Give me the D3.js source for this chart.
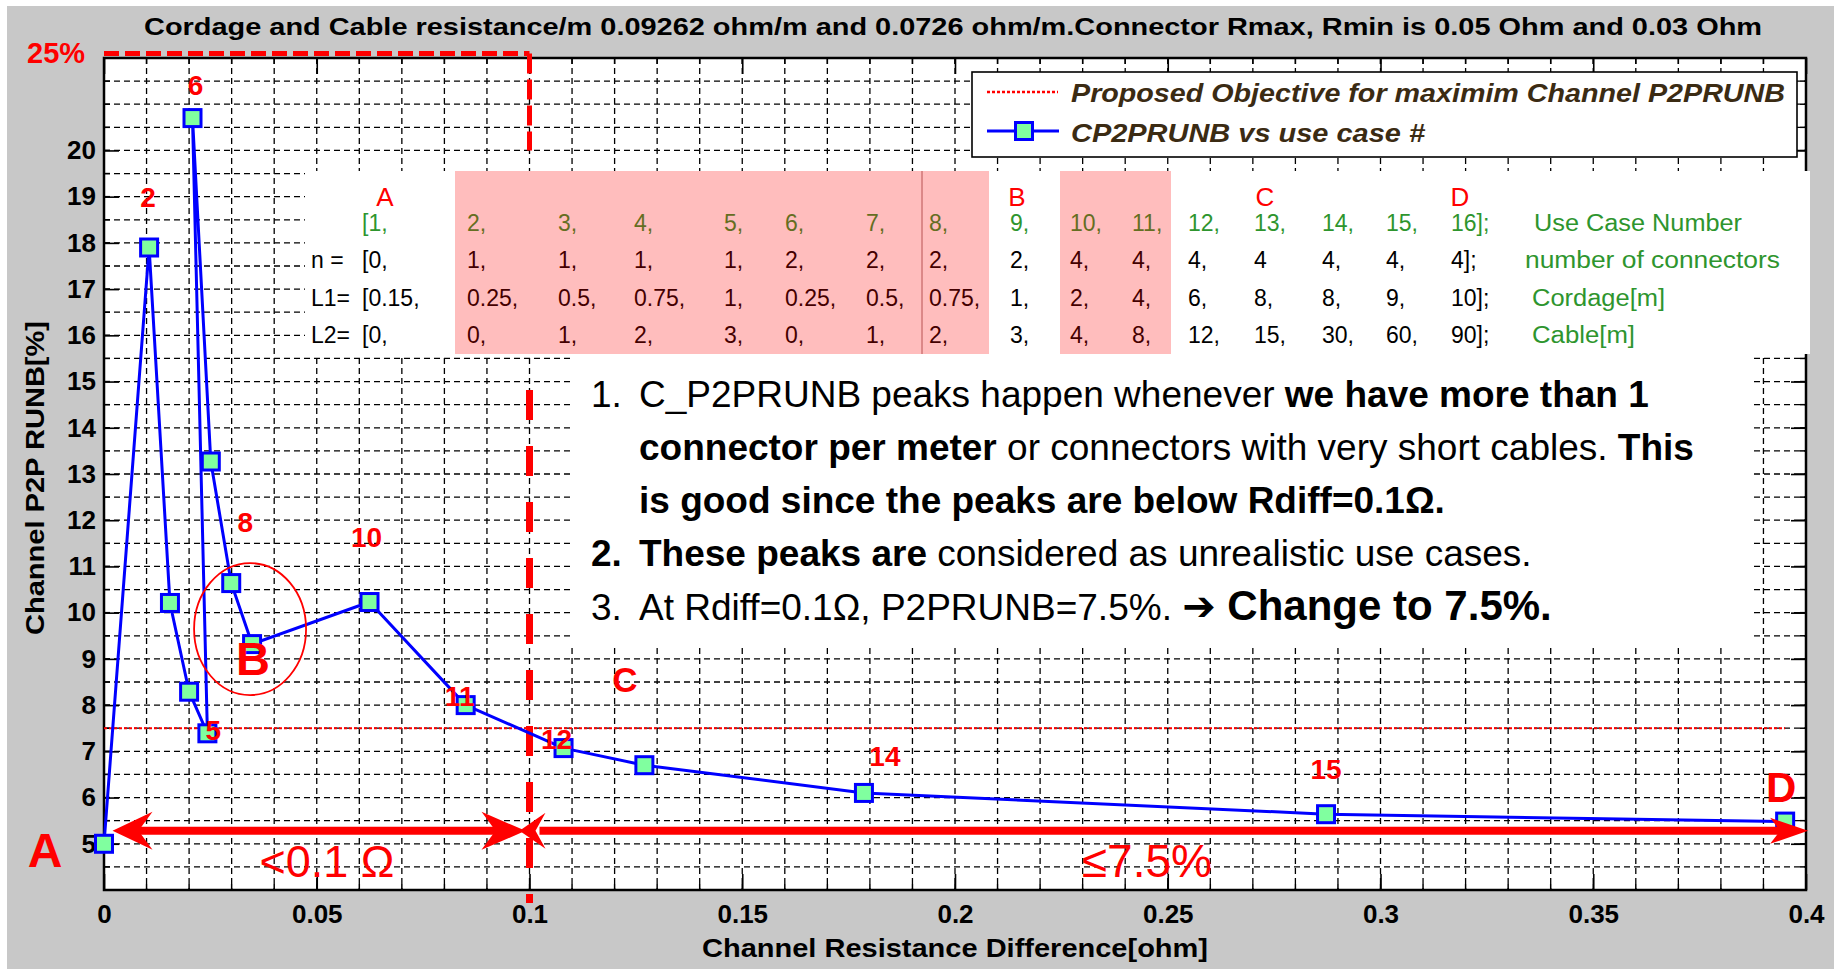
<!DOCTYPE html>
<html>
<head>
<meta charset="utf-8">
<script src="https://cdn.jsdelivr.net/npm/d3@7"></script>
<style>
html, body { margin: 0; padding: 0; background: #fff; }
svg { display: block; }
text { font-family: "Liberation Sans", Arial, sans-serif; white-space: pre; }
</style>
</head>
<body>
<svg id="chart"></svg>
<script>
// data
const useCase = [1, 2, 3, 4, 5, 6, 7, 8, 9, 10, 11, 12, 13, 14, 15, 16];
const rDiff = [0, 0.0106, 0.0155, 0.0200, 0.0243, 0.0208, 0.0251, 0.0299, 0.0348, 0.0624, 0.0850, 0.1080, 0.1270, 0.1786, 0.2872, 0.3951];
const runb = [5.0, 17.9, 10.21, 8.29, 7.39, 20.70, 13.27, 10.64, 9.32, 10.23, 8.0, 7.07, 6.70, 6.10, 5.64, 5.48];
const objective = 7.5;
const rLimit = 0.1;

// table in the chart
const nConn = [0, 1, 1, 1, 1, 2, 2, 2, 2, 4, 4, 4, 4, 4, 4, 4];
const cordage = [0.15, 0.25, 0.5, 0.75, 1, 0.25, 0.5, 0.75, 1, 2, 4, 6, 8, 8, 9, 10];
const cable = [0, 0, 1, 2, 3, 0, 1, 2, 3, 4, 8, 12, 15, 30, 60, 90];
const rowNames = ["", "n =", "L1=", "L2="];
const rowDesc = ["Use Case Number", "number of connectors", "Cordage[m]", "Cable[m]"];
const zoneLetters = ["A", "B", "C", "D"];

// axes
const xTicks = [0, 0.05, 0.1, 0.15, 0.2, 0.25, 0.3, 0.35, 0.4];
const yTicks = [5, 6, 7, 8, 9, 10, 11, 12, 13, 14, 15, 16, 17, 18, 19, 20];

const titleText = "Cordage and Cable resistance/m 0.09262 ohm/m and 0.0726 ohm/m.Connector Rmax, Rmin is 0.05 Ohm and 0.03 Ohm";
const legendTexts = ["Proposed Objective for maximim Channel P2PRUNB", "CP2PRUNB vs use case #"];

const W = 1834, H = 969;
const RED = "#ff0000", BLUE = "#0000ff", MARK = "#80ff9f";

const svg = d3.select("#chart").attr("width", W).attr("height", H);

const x = d3.scaleLinear().domain([0, 0.4]).range([104, 1806]);
const y = d3.scaleLinear().domain([4, 22]).range([890, 58]);

svg.append("rect").attr("x", 7).attr("y", 6).attr("width", W - 7).attr("height", H - 6).attr("fill", "#c8c8c8");

// plot area
svg.append("rect")
    .attr("x", x(0)).attr("y", y(22))
    .attr("width", x(0.4) - x(0)).attr("height", y(4) - y(22))
    .attr("fill", "#fff");

// grid
const gridG = svg.append("g").attr("stroke", "#000").attr("stroke-width", 1.3).attr("stroke-dasharray", "6,4");
gridG.selectAll(".vg").data(d3.range(1, 40).map(i => i / 100)).join("line")
    .attr("x1", d => x(d)).attr("x2", d => x(d))
    .attr("y1", y(22)).attr("y2", y(4));
gridG.selectAll(".hg").data(d3.range(9, 44).map(i => i / 2)).join("line")
    .attr("x1", x(0)).attr("x2", x(0.4))
    .attr("y1", d => y(d)).attr("y2", d => y(d));

// minor ticks
const tickG = svg.append("g").attr("stroke", "#000").attr("stroke-width", 1.5);
d3.range(1, 40).map(i => i / 100).forEach(v => {
    tickG.append("line").attr("x1", x(v)).attr("x2", x(v)).attr("y1", y(4)).attr("y2", y(4) - 6);
    tickG.append("line").attr("x1", x(v)).attr("x2", x(v)).attr("y1", y(22)).attr("y2", y(22) + 6);
});
d3.range(9, 44).map(i => i / 2).forEach(v => {
    tickG.append("line").attr("x1", x(0)).attr("x2", x(0) + 6).attr("y1", y(v)).attr("y2", y(v));
    tickG.append("line").attr("x1", x(0.4)).attr("x2", x(0.4) - 6).attr("y1", y(v)).attr("y2", y(v));
});

// axes
const xAxis = d3.axisBottom(x).tickValues(xTicks).tickFormat(d3.format("")).tickSizeInner(-16).tickSizeOuter(0).tickPadding(15);
const xAxisG = svg.append("g").attr("transform", `translate(0,${y(4)})`).call(xAxis);
const xAxisTop = d3.axisTop(x).tickValues(xTicks).tickFormat("").tickSizeInner(-16).tickSizeOuter(0);
const xAxisTopG = svg.append("g").attr("transform", `translate(0,${y(22)})`).call(xAxisTop);
const yAxis = d3.axisLeft(y).tickValues(yTicks).tickSizeInner(-15).tickSizeOuter(0).tickPadding(8);
const yAxisG = svg.append("g").attr("transform", `translate(${x(0)},0)`).call(yAxis);
const yAxisR = d3.axisRight(y).tickValues(yTicks).tickFormat("").tickSizeInner(-15).tickSizeOuter(0);
const yAxisRG = svg.append("g").attr("transform", `translate(${x(0.4)},0)`).call(yAxisR);
[xAxisG, xAxisTopG, yAxisG, yAxisRG].forEach(g => {
    g.select(".domain").remove();
    g.selectAll(".tick line").attr("stroke", "#000").attr("stroke-width", 1.6);
    g.selectAll(".tick text").attr("fill", "#000").attr("font-size", 26).attr("font-weight", "bold")
        .attr("font-family", "Liberation Sans, Arial, sans-serif");
});

svg.append("rect")
    .attr("x", x(0)).attr("y", y(22))
    .attr("width", x(0.4) - x(0)).attr("height", y(4) - y(22))
    .attr("fill", "none").attr("stroke", "#000").attr("stroke-width", 2.5);

// title and axis labels
svg.append("text").attr("x", 953).attr("y", 35).attr("text-anchor", "middle")
    .attr("font-size", 24).attr("font-weight", "bold")
    .attr("textLength", 1618).attr("lengthAdjust", "spacingAndGlyphs")
    .text(titleText);
svg.append("text").attr("x", (x(0) + x(0.4)) / 2).attr("y", 957).attr("text-anchor", "middle")
    .attr("font-size", 25).attr("font-weight", "bold")
    .attr("textLength", 506).attr("lengthAdjust", "spacingAndGlyphs")
    .text("Channel Resistance Difference[ohm]");
svg.append("text").attr("transform", "translate(44,478) rotate(-90)").attr("text-anchor", "middle")
    .attr("font-size", 25).attr("font-weight", "bold")
    .attr("textLength", 314).attr("lengthAdjust", "spacingAndGlyphs")
    .text("Channel P2P RUNB[%]");

// red dashed limit: 25% ceiling and Rdiff = 0.1
svg.append("line").attr("x1", x(0)).attr("x2", x(rLimit)).attr("y1", y(22.1)).attr("y2", y(22.1))
    .attr("stroke", RED).attr("stroke-width", 5).attr("stroke-dasharray", "15,6");
svg.append("line").attr("x1", x(rLimit)).attr("x2", x(rLimit)).attr("y1", y(22.1)).attr("y2", y(20))
    .attr("stroke", RED).attr("stroke-width", 5).attr("stroke-dasharray", "20,6");
svg.append("line").attr("x1", x(rLimit)).attr("x2", x(rLimit)).attr("y1", 390).attr("y2", 903)
    .attr("stroke", RED).attr("stroke-width", 7).attr("stroke-dasharray", "30,26");
svg.append("text").attr("x", 27).attr("y", 63).attr("fill", RED)
    .attr("font-size", 29).attr("font-weight", "bold").text("25%");

// objective line
svg.append("line")
    .attr("x1", x(0)).attr("x2", x(d3.max(rDiff)))
    .attr("y1", y(objective)).attr("y2", y(objective))
    .attr("stroke", RED).attr("stroke-width", 2).attr("stroke-dasharray", "3,2");

// data
const pts = useCase.map((c, i) => ({ c: c, r: rDiff[i], v: runb[i] }));
svg.append("path").datum(pts)
    .attr("d", d3.line().x(d => x(d.r)).y(d => y(d.v)))
    .attr("fill", "none").attr("stroke", BLUE).attr("stroke-width", 3).attr("stroke-linejoin", "round");
const MS = 17;
svg.append("g").selectAll("rect").data(pts).join("rect")
    .attr("x", d => x(d.r) - MS / 2).attr("y", d => y(d.v) - MS / 2)
    .attr("width", MS).attr("height", MS)
    .attr("fill", MARK).attr("stroke", BLUE).attr("stroke-width", 3);

// use case table
const tbl = svg.append("g");
tbl.append("rect").attr("x", 305).attr("y", 171).attr("width", 1505).attr("height", 183).attr("fill", "#fff");
const colX = [362, 467, 558, 634, 724, 785, 866, 929, 1010, 1070, 1132, 1188, 1254, 1322, 1386, 1451];
const rowY = [231, 268, 306, 343];
const fmtRow = (arr, i) => (i === 0 ? "[" : "") + arr[i] + (i === arr.length - 1 ? "];" : ",");
const rows = [
    useCase.map((d, i) => fmtRow(useCase, i)),
    nConn.map((d, i) => i === 12 ? String(d) : fmtRow(nConn, i)),
    cordage.map((d, i) => fmtRow(cordage, i)),
    cable.map((d, i) => fmtRow(cable, i))
];
const GREEN = "#2e952e";
rows.forEach((row, r) => {
    tbl.selectAll(".r" + r).data(row).join("text")
        .attr("x", (d, i) => colX[i]).attr("y", rowY[r])
        .attr("font-family", "Noto Sans, sans-serif").attr("font-size", 23)
        .attr("fill", r === 0 ? GREEN : "#000")
        .text(d => d);
    tbl.append("text").attr("x", 311).attr("y", rowY[r])
        .attr("font-family", "Noto Sans, sans-serif").attr("font-size", 23)
        .text(rowNames[r]);
});
const descX = [1534, 1525, 1532, 1532];
const descW = [208, 255, 133, 103];
rowDesc.forEach((t, r) => {
    tbl.append("text").attr("x", descX[r]).attr("y", rowY[r])
        .attr("font-family", "Noto Sans, sans-serif").attr("font-size", 23).attr("fill", GREEN)
        .attr("textLength", descW[r]).attr("lengthAdjust", "spacingAndGlyphs")
        .text(t);
});
const letterX = [385, 1017, 1265, 1460];
tbl.selectAll(".zl").data(zoneLetters).join("text")
    .attr("x", (d, i) => letterX[i]).attr("y", 206).attr("text-anchor", "middle")
    .attr("font-family", "Noto Sans, sans-serif").attr("font-size", 26).attr("fill", RED)
    .text(d => d);
tbl.append("line").attr("x1", 922).attr("x2", 922).attr("y1", 171).attr("y2", 354)
    .attr("stroke", "#a07070").attr("stroke-width", 1);
tbl.append("rect").attr("x", 455).attr("y", 171).attr("width", 534).attr("height", 183)
    .attr("fill", RED).attr("fill-opacity", 0.26);
tbl.append("rect").attr("x", 1060).attr("y", 171).attr("width", 111).attr("height", 183)
    .attr("fill", RED).attr("fill-opacity", 0.26);

// notes
const notes = svg.append("g");
notes.append("rect").attr("x", 570).attr("y", 354).attr("width", 1182).attr("height", 291).attr("fill", "#fff");
const noteLines = [
    { num: "1.", numBold: false, y: 407, parts: [["C_P2PRUNB peaks happen whenever ", false], ["we have more than 1", true]] },
    { num: "", y: 460, parts: [["connector per meter", true], [" or connectors with very short cables. ", false], ["This", true]] },
    { num: "", y: 513, parts: [["is good since the peaks are below Rdiff=0.1Ω.", true]] },
    { num: "2.", numBold: true, y: 566, parts: [["These peaks are", true], [" considered as unrealistic use cases.", false]] },
    { num: "3.", numBold: false, y: 620, parts: [["At Rdiff=0.1Ω, P2PRUNB=7.5%. ", false], ["➔", true], [" Change to 7.5%.", true, 42]] }
];
noteLines.forEach(l => {
    if (l.num) {
        notes.append("text").attr("x", 591).attr("y", l.y).attr("font-size", 37)
            .attr("font-weight", l.numBold ? "bold" : "normal").text(l.num);
    }
    const t = notes.append("text").attr("x", 639).attr("y", l.y).attr("font-size", 37);
    l.parts.forEach(p => {
        const s = t.append("tspan").attr("font-weight", p[1] ? "bold" : "normal").text(p[0]);
        if (p[2]) s.attr("font-size", p[2]);
        if (p[0] === "➔") s.attr("font-family", "DejaVu Sans, sans-serif").attr("font-size", 40);
    });
});

// legend
const lg = svg.append("g");
lg.append("rect").attr("x", 972).attr("y", 72).attr("width", 825).attr("height", 85)
    .attr("fill", "#fff").attr("stroke", "#000").attr("stroke-width", 1.6);
lg.append("line").attr("x1", 987).attr("x2", 1058).attr("y1", 92).attr("y2", 92)
    .attr("stroke", RED).attr("stroke-width", 2.5).attr("stroke-dasharray", "3,2");
lg.append("line").attr("x1", 987).attr("x2", 1059).attr("y1", 131).attr("y2", 131)
    .attr("stroke", BLUE).attr("stroke-width", 3);
lg.append("rect").attr("x", 1024 - MS / 2).attr("y", 131 - MS / 2).attr("width", MS).attr("height", MS)
    .attr("fill", MARK).attr("stroke", BLUE).attr("stroke-width", 3);
const legW = [714, 354];
lg.selectAll(".lt").data(legendTexts).join("text")
    .attr("x", 1071).attr("y", (d, i) => 102 + i * 40)
    .attr("font-size", 25).attr("font-weight", "bold").attr("font-style", "italic").attr("fill", "#3b2b13")
    .attr("textLength", (d, i) => legW[i]).attr("lengthAdjust", "spacingAndGlyphs")
    .text(d => d);

// case number labels near points
const caseLabels = [
    { c: 2, dx: -1, dy: -41 }, { c: 6, dx: 3, dy: -23 }, { c: 5, dx: 6, dy: 7 },
    { c: 8, dx: 14, dy: -51 }, { c: 10, dx: -3, dy: -55 }, { c: 11, dx: -6, dy: 1 },
    { c: 12, dx: -7, dy: 1 }, { c: 14, dx: 21, dy: -27 }, { c: 15, dx: 0, dy: -35 }
];
svg.append("g").selectAll("text").data(caseLabels).join("text")
    .attr("x", d => x(rDiff[d.c - 1]) + d.dx).attr("y", d => y(runb[d.c - 1]) + d.dy)
    .attr("text-anchor", "middle").attr("font-size", 28).attr("font-weight", "bold").attr("fill", RED)
    .text(d => d.c);

// zone letters in the plot
const zoneMarks = [
    { t: "A", c: 1, dx: -59, dy: 23, fs: 48 },
    { t: "B", c: 9, dx: 1, dy: 31, fs: 47 },
    { t: "D", c: 16, dx: -4, dy: -20, fs: 42 }
];
svg.append("g").selectAll("text").data(zoneMarks).join("text")
    .attr("x", d => x(rDiff[d.c - 1]) + d.dx).attr("y", d => y(runb[d.c - 1]) + d.dy)
    .attr("text-anchor", "middle").attr("font-size", d => d.fs).attr("font-weight", "bold").attr("fill", RED)
    .text(d => d.t);
svg.append("text").attr("x", x(0.1224)).attr("y", y(8.28)).attr("text-anchor", "middle")
    .attr("font-size", 35).attr("font-weight", "bold").attr("fill", RED).text("C");
svg.append("ellipse").attr("cx", x(rDiff[8]) - 2).attr("cy", y(runb[8]) - 15).attr("rx", 56).attr("ry", 66)
    .attr("fill", "none").attr("stroke", RED).attr("stroke-width", 1.8);

// range arrows
const ay = y(5.28);
const head = (tip, dir, len, half, notch) =>
    `M${tip},${ay}L${tip - dir * len},${ay - half}L${tip - dir * notch},${ay}L${tip - dir * len},${ay + half}Z`;
const arr = svg.append("g").attr("fill", RED);
arr.append("line").attr("x1", x(0.002) + 25).attr("x2", x(rLimit) - 25).attr("y1", ay).attr("y2", ay)
    .attr("stroke", RED).attr("stroke-width", 8);
arr.append("path").attr("d", head(x(0.002), -1, 40, 19, 26));
arr.append("path").attr("d", head(x(rLimit) - 4, 1, 44, 19, 30));
arr.append("line").attr("x1", x(rLimit) + 10).attr("x2", x(0.4005) - 25).attr("y1", ay).attr("y2", ay)
    .attr("stroke", RED).attr("stroke-width", 8);
arr.append("path").attr("d", head(x(rLimit) - 10, -1, 26, 18, 16));
arr.append("path").attr("d", head(x(0.4005), 1, 38, 13, 28));

svg.append("text").attr("x", x(0.0524)).attr("y", y(4.28)).attr("text-anchor", "middle")
    .attr("font-size", 45).attr("fill", RED).text("<0.1 Ω");
svg.append("text").attr("x", x(0.2451)).attr("y", y(4.28)).attr("text-anchor", "middle")
    .attr("font-size", 46).attr("fill", RED).text("≤7.5%");
</script>
</body>
</html>
